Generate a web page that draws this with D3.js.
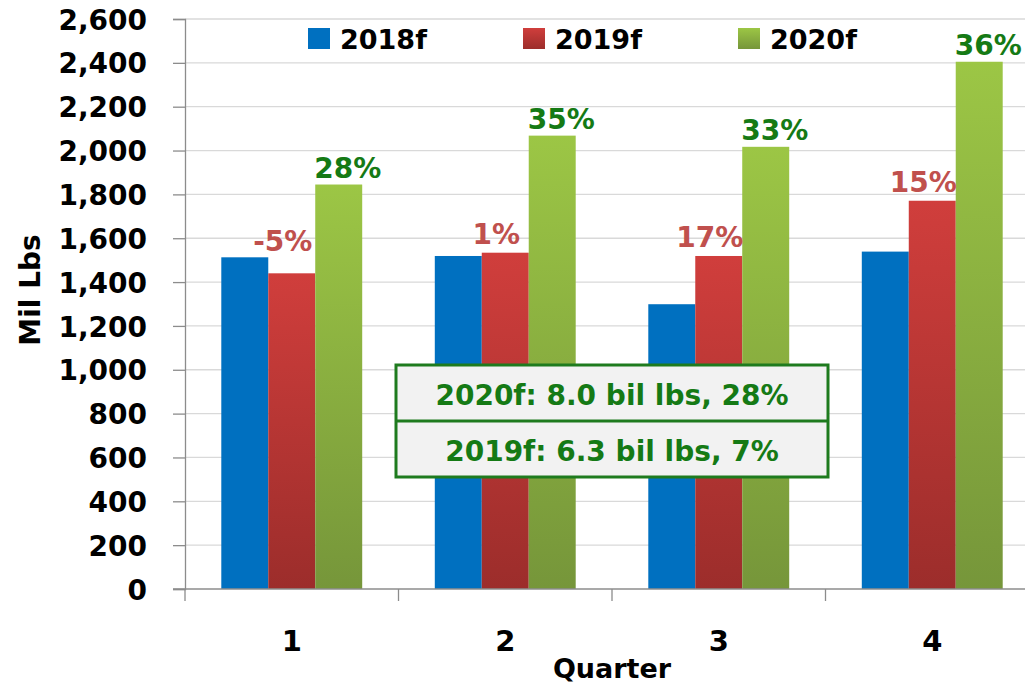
<!DOCTYPE html>
<html lang="en">
<head>
    <meta charset="UTF-8">
    <title>Quarterly volume</title>
    <script src="https://d3js.org/d3.v7.min.js"></script>
    <style>
        body { margin: 0; background: #fff; overflow: hidden; }
        text { font-family: "DejaVu Sans", sans-serif; font-weight: bold; }
    </style>
</head>
<body>
<div id="chart"></div>

<script>
    // data
    var quarters = ["1", "2", "3", "4"];
    var seriesNames = ["2018f", "2019f", "2020f"];
    var values2018 = [1513, 1519, 1299, 1539];
    var values2019 = [1440, 1534, 1519, 1771];
    var values2020 = [1845, 2068, 2017, 2405];
    var growth2019 = ["-5%", "1%", "17%", "15%"];
    var growth2020 = ["28%", "35%", "33%", "36%"];
    var yTicks = [0, 200, 400, 600, 800, 1000, 1200, 1400, 1600, 1800, 2000, 2200, 2400, 2600];
    var summaryLines = ["2020f: 8.0 bil lbs, 28%", "2019f: 6.3 bil lbs, 7%"];

    var width = 1025, height = 686;
    var margin = {top: 19, left: 185, bottom: 97};
    var plotRight = 1039; // the picture is cut on the right

    var svg = d3.select("#chart").append("svg")
        .attr("width", width)
        .attr("height", height);

    // gradients for bars
    var defs = svg.append("defs");
    function addGradient(id, top, bottom) {
        var g = defs.append("linearGradient")
            .attr("id", id)
            .attr("x1", 0).attr("y1", 0).attr("x2", 0).attr("y2", 1);
        g.append("stop").attr("offset", "0%").attr("stop-color", top);
        g.append("stop").attr("offset", "100%").attr("stop-color", bottom);
    }
    addGradient("gBlue", "#0070c0", "#0070c0");
    addGradient("gRed", "#d03e3c", "#9c2d2b");
    addGradient("gGreen", "#9cc645", "#76963a");
    var fills = ["url(#gBlue)", "url(#gRed)", "url(#gGreen)"];

    var x0 = d3.scaleBand()
        .domain(quarters)
        .range([margin.left, plotRight])
        .paddingInner(0.34)
        .paddingOuter(0.17);

    var x1 = d3.scaleBand()
        .domain(seriesNames)
        .range([0, x0.bandwidth()]);

    var y = d3.scaleLinear()
        .domain([0, 2600])
        .range([height - margin.bottom, margin.top]);

    // gridlines
    svg.append("g")
        .selectAll("line")
        .data(yTicks.slice(1))
        .enter().append("line")
        .attr("x1", margin.left)
        .attr("x2", plotRight)
        .attr("y1", function (d) { return y(d); })
        .attr("y2", function (d) { return y(d); })
        .attr("stroke", "#d9d9d9")
        .attr("stroke-width", 1.3);

    // y axis
    var yAxis = svg.append("g")
        .attr("transform", "translate(" + margin.left + ",0)")
        .call(d3.axisLeft(y).tickValues(yTicks).tickSize(12).tickPadding(26)
            .tickFormat(d3.format(",")));
    yAxis.select(".domain").attr("stroke", "#8c8c8c").attr("stroke-width", 1.3);
    yAxis.selectAll(".tick line").attr("stroke", "#8c8c8c").attr("stroke-width", 1.3);
    yAxis.selectAll("text")
        .attr("fill", "#000")
        .style("font-size", "28px")
        .attr("dy", "0.36em");

    // bars
    var rows = quarters.map(function (q, i) {
        return {q: q, vals: [values2018[i], values2019[i], values2020[i]]};
    });

    var groups = svg.append("g")
        .selectAll("g")
        .data(rows)
        .enter().append("g")
        .attr("transform", function (d) { return "translate(" + x0(d.q) + ",0)"; });

    groups.selectAll("rect")
        .data(function (d) {
            return d.vals.map(function (v, k) { return {s: seriesNames[k], v: v, k: k}; });
        })
        .enter().append("rect")
        .attr("x", function (d) { return x1(d.s); })
        .attr("y", function (d) { return y(d.v); })
        .attr("width", x1.bandwidth())
        .attr("height", function (d) { return y(0) - y(d.v); })
        .attr("fill", function (d) { return fills[d.k]; });

    // x axis
    var xAxisG = svg.append("g")
        .attr("transform", "translate(0," + y(0) + ")");
    xAxisG.append("line")
        .attr("x1", margin.left - 12)
        .attr("x2", plotRight)
        .attr("stroke", "#8c8c8c")
        .attr("stroke-width", 1.3);
    var bounds = quarters.map(function (q) { return x0(q) - x0.step() * x0.paddingInner() / 2; });
    xAxisG.selectAll(".sep")
        .data(bounds)
        .enter().append("line")
        .attr("class", "sep")
        .attr("x1", function (d) { return d; })
        .attr("x2", function (d) { return d; })
        .attr("y1", 0)
        .attr("y2", 12)
        .attr("stroke", "#8c8c8c")
        .attr("stroke-width", 1.3);
    xAxisG.selectAll(".qlabel")
        .data(quarters)
        .enter().append("text")
        .attr("class", "qlabel")
        .attr("x", function (d) { return x0(d) + x0.bandwidth() / 2; })
        .attr("y", 62)
        .attr("text-anchor", "middle")
        .style("font-size", "29px")
        .text(function (d) { return d; });

    svg.append("text")
        .attr("x", 612)
        .attr("y", 678)
        .attr("text-anchor", "middle")
        .style("font-size", "27px")
        .text("Quarter");

    svg.append("text")
        .attr("transform", "translate(40,290) rotate(-90)")
        .attr("text-anchor", "middle")
        .style("font-size", "28px")
        .text("Mil Lbs");

    // growth labels (red ones stay clear of the blue bar next to them)
    groups.append("text")
        .attr("x", function (d) { return x1("2019f") + x1.bandwidth() / 2 - 9; })
        .attr("y", function (d) { return Math.min(y(d.vals[1]) - 9, y(d.vals[0]) - 6); })
        .attr("text-anchor", "middle")
        .attr("fill", "#c0504d")
        .style("font-size", "28px")
        .text(function (d, i) { return growth2019[i]; });

    groups.append("text")
        .attr("x", function (d) { return x1("2020f") + x1.bandwidth() / 2 + 9; })
        .attr("y", function (d) { return y(d.vals[2]) - 7; })
        .attr("text-anchor", "middle")
        .attr("fill", "#157a15")
        .style("font-size", "28px")
        .text(function (d, i) { return growth2020[i]; });

    // legend
    var legend = svg.append("g")
        .selectAll("g")
        .data(seriesNames)
        .enter().append("g")
        .attr("transform", function (d, i) { return "translate(" + (308 + i * 215) + ",28)"; });
    legend.append("rect")
        .attr("width", 22)
        .attr("height", 21)
        .attr("fill", function (d, i) { return fills[i]; });
    legend.append("text")
        .attr("x", 32)
        .attr("y", 21)
        .style("font-size", "27px")
        .text(function (d) { return d; });

    // summary box
    var box = svg.append("g").attr("transform", "translate(396,365)");
    box.append("rect")
        .attr("width", 432)
        .attr("height", 112)
        .attr("fill", "#f2f2f2")
        .attr("stroke", "#1e7b1e")
        .attr("stroke-width", 3);
    box.append("line")
        .attr("x1", 0).attr("x2", 432)
        .attr("y1", 56).attr("y2", 56)
        .attr("stroke", "#1e7b1e")
        .attr("stroke-width", 3);
    box.selectAll(".sum")
        .data(summaryLines)
        .enter().append("text")
        .attr("class", "sum")
        .attr("x", 216)
        .attr("y", function (d, i) { return 40 + i * 56; })
        .attr("text-anchor", "middle")
        .attr("fill", "#157a15")
        .style("font-size", "28px")
        .text(function (d) { return d; });
</script>
</body>
</html>
